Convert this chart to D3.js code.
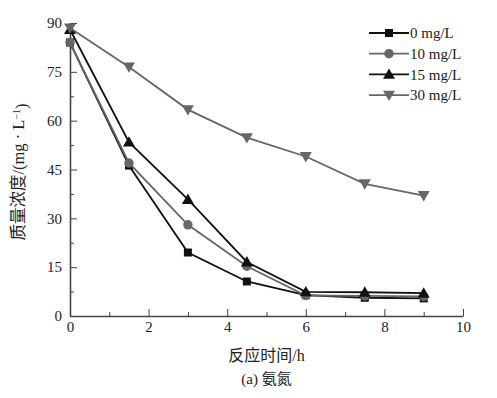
<!DOCTYPE html>
<html>
<head>
<meta charset="utf-8">
<script src="https://cdn.jsdelivr.net/npm/d3@7"></script>
<style>
  body { margin: 0; background: #fff; }
  svg text { font-family: "Liberation Serif", "Noto Sans CJK SC", serif; fill: #222; }
  .axis path, .axis line { stroke: #444; }
</style>
</head>
<body>
<div id="chart"></div>
<script>
const TIMES = [0, 1.5, 3, 4.5, 6, 7.5, 9];
const SERIES_NAMES = ["0 mg/L", "10 mg/L", "15 mg/L", "30 mg/L"];
const VALS_0 = [84, 46.2, 19.5, 10.6, 6.4, 5.6, 5.4];
const VALS_10 = [84, 47, 28, 15.3, 6.3, 6.2, 6.0];
const VALS_15 = [88, 53.4, 35.8, 16.6, 7.4, 7.3, 7.0];
const VALS_30 = [88.5, 76.5, 63.4, 54.8, 49, 40.6, 37];
const X_TICKS = [0, 2, 4, 6, 8, 10];
const Y_TICKS = [0, 15, 30, 45, 60, 75, 90];

const COLORS = ["#111", "#666", "#111", "#666"];
const SYMBOLS = ["square", "circle", "triangle", "triangle-down"];

const width = 497, height = 398;
const margin = {top: 23, right: 34, bottom: 82, left: 70};

var svg = d3.select("#chart").append("svg")
    .attr("width", width)
    .attr("height", height);

var x = d3.scaleLinear().domain([0, 10]).range([margin.left, width - margin.right]);
var y = d3.scaleLinear().domain([0, 90]).range([height - margin.bottom, margin.top]);

// minor ticks first, then the major axes
svg.append("g")
    .attr("class", "axis")
    .attr("transform", "translate(0," + y(0) + ")")
    .call(d3.axisBottom(x).tickValues([1, 3, 5, 7, 9]).tickSize(-4).tickFormat(""))
    .call(g => g.select(".domain").remove());

svg.append("g")
    .attr("class", "axis")
    .attr("transform", "translate(" + x(0) + ",0)")
    .call(d3.axisLeft(y).tickValues([7.5, 22.5, 37.5, 52.5, 67.5, 82.5]).tickSize(-4).tickFormat(""))
    .call(g => g.select(".domain").remove());

var xg = svg.append("g")
    .attr("class", "axis")
    .attr("transform", "translate(0," + y(0) + ")")
    .call(d3.axisBottom(x).tickValues(X_TICKS).tickSize(-7).tickSizeOuter(0).tickPadding(5));
xg.select(".domain").attr("stroke-width", 1.6);
xg.selectAll("text").style("font-size", "15px");

var yg = svg.append("g")
    .attr("class", "axis")
    .attr("transform", "translate(" + x(0) + ",0)")
    .call(d3.axisLeft(y).tickValues(Y_TICKS).tickSize(-7).tickSizeOuter(0).tickPadding(8));
yg.select(".domain").attr("stroke-width", 1.6);
yg.selectAll("text").style("font-size", "15px");

const symbolFor = (name) => {
  if (name === "square") return d3.symbol(d3.symbolSquare, 64);
  if (name === "circle") return d3.symbol(d3.symbolCircle, 70);
  return d3.symbol(d3.symbolTriangle, 62);
};

const markerTransform = (name, px, py) => {
  let t = "translate(" + px + "," + py + ")";
  if (name === "triangle") t += " translate(0,1)";
  if (name === "triangle-down") t += " translate(0,-1) rotate(180)";
  return t;
};

var line = d3.line()
    .x((d) => x(d.t))
    .y((d) => y(d.v));

const ALL = [VALS_0, VALS_10, VALS_15, VALS_30];

for (let i = 0; i < ALL.length; i++) {
  let data = TIMES.map((t, j) => ({t: t, v: ALL[i][j]}));
  svg.append("path")
      .attr("d", line(data))
      .attr("fill", "none")
      .attr("stroke", COLORS[i])
      .attr("stroke-width", 1.8);
  svg.selectAll(null)
      .data(data)
      .enter().append("path")
      .attr("d", symbolFor(SYMBOLS[i])())
      .attr("transform", (d) => markerTransform(SYMBOLS[i], x(d.t), y(d.v)))
      .attr("fill", COLORS[i]);
}

// legend
var legend = svg.append("g").attr("transform", "translate(369,33)");
for (let i = 0; i < SERIES_NAMES.length; i++) {
  let row = legend.append("g").attr("transform", "translate(0," + (i * 20.7) + ")");
  row.append("line")
      .attr("x1", 0).attr("x2", 40)
      .attr("stroke", COLORS[i])
      .attr("stroke-width", 1.8);
  row.append("path")
      .attr("d", symbolFor(SYMBOLS[i])())
      .attr("transform", markerTransform(SYMBOLS[i], 20, 0))
      .attr("fill", COLORS[i]);
  row.append("text")
      .attr("x", 41)
      .attr("dy", "0.35em")
      .style("font-size", "15px")
      .text(SERIES_NAMES[i]);
}

// axis titles
svg.append("text")
    .attr("x", (x(0) + x(10)) / 2)
    .attr("y", 361)
    .style("text-anchor", "middle")
    .style("font-size", "16px")
    .text("反应时间/h");

svg.append("text")
    .attr("x", (x(0) + x(10)) / 2)
    .attr("y", 384)
    .style("text-anchor", "middle")
    .style("font-size", "15px")
    .text("(a) 氨氮");

var ylab = svg.append("text")
    .attr("transform", "translate(24," + 172 + ") rotate(-90)")
    .style("text-anchor", "middle")
    .style("font-size", "16.5px");
ylab.append("tspan").text("质量浓度/(mg · L");
ylab.append("tspan").attr("dy", "-0.45em").style("font-size", "10px").text("−1");
ylab.append("tspan").attr("dy", "0.45em").text(")");
</script>
</body>
</html>
